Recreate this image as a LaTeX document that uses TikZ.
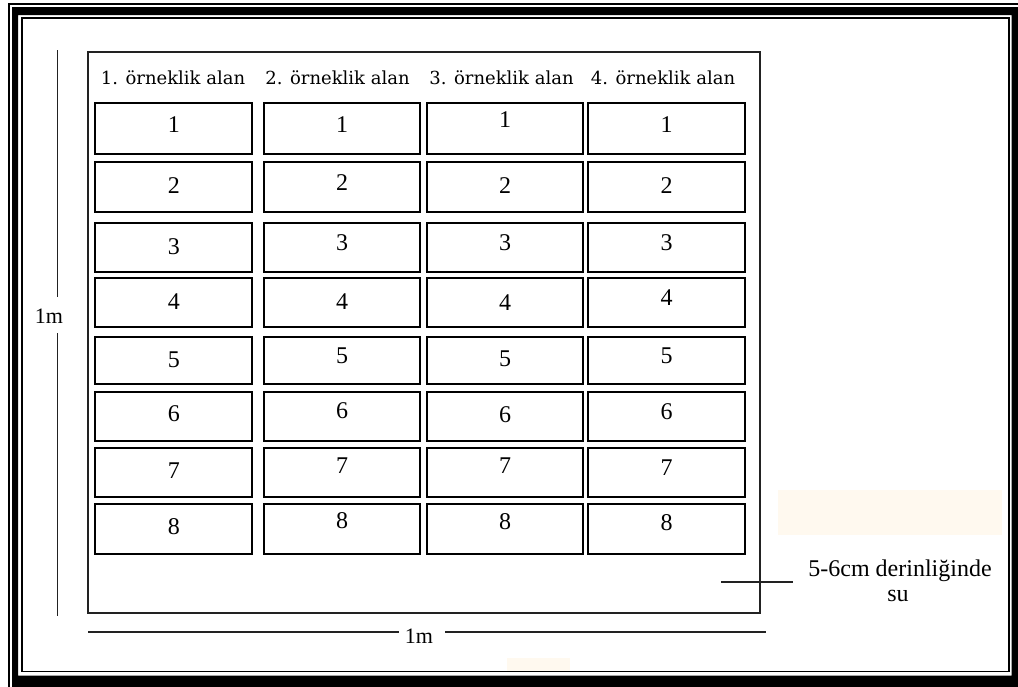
\documentclass[tikz,border=0pt]{standalone}
\usepackage{fontspec}
\setmainfont{Liberation Serif}
\newfontfamily\hdrfont{DejaVu Serif}
\definecolor{peach}{HTML}{FFF9EF}
\definecolor{ink}{HTML}{222222}
\begin{document}
\begin{tikzpicture}[x=1pt,y=-1pt,
  cell/.style={draw=black,line width=1.8pt,inner sep=0pt,outer sep=0pt},
  digit/.style={inner sep=0pt,font=\fontsize{24}{26}\selectfont},
  hdr/.style={inner sep=0pt,anchor=base,font=\hdrfont\fontsize{18}{20}\selectfont},
  dimlbl/.style={inner sep=0pt,anchor=base,font=\fontsize{22}{24}\selectfont},
  note/.style={inner sep=0pt,anchor=base,font=\fontsize{24}{26}\selectfont},
  thin/.style={draw=ink,line width=1.5pt}]
\useasboundingbox (0,0) rectangle (1018,686);
\fill[white] (0,0) rectangle (1018,686);
% faint patches
\fill[peach] (778,490) rectangle (1002,535);
\fill[peach] (507,658) rectangle (570,672);
% frame
\begin{scope}
\clip (0,0) rectangle (1018,686);
\fill[black,even odd rule] (12,7) rectangle (1040,710) (18,15) rectangle (1011.5,675.5);
\draw[line width=1.7pt] (9.2,4.1) rectangle (1050,720);
\draw[line width=1.8pt] (21.7,17.9) rectangle (1009.3,671.4);
\end{scope}
% field
\node[thin,inner sep=0pt,outer sep=0pt,minimum width=672pt,minimum height=561pt,anchor=north west] (field) at (88,52) {};
% headers
\node[hdr] (h1) at (173,84) {1. örneklik alan};
\node[hdr] (h2) at (337.5,84) {2. örneklik alan};
\node[hdr] (h3) at (501.5,84) {3. örneklik alan};
\node[hdr] (h4) at (663,84) {4. örneklik alan};
% boxes
\foreach \r/\yc/\h/\da/\db/\dc/\dd in {
  1/128.5/51/124.5/124.5/120/124.5,
  2/187/50/185.5/183/186/186,
  3/247.5/49/246.5/243/243/243,
  4/302.5/49/302/302/303/298,
  5/360.5/47/360/356/359/356,
  6/416.5/49/414/411/415/412,
  7/472.5/49/471/466/466/468,
  8/529/50/527/521/522/523}{
  \foreach \c/\xc/\w/\d in {1/173.8/157/\da,2/342/156/\db,3/505/156/\dc,4/666.7/157/\dd}{
    \node[cell,minimum width=\w pt,minimum height=\h pt] (b\r-\c) at (\xc,\yc) {};
    \node[digit] (t\r-\c) at (\xc,\d) {\r};
  }
}
% vertical dimension
\coordinate (vt) at (57.3,50);
\coordinate (vg1) at (57.3,297);
\coordinate (vg2) at (57.3,333);
\coordinate (vb) at (57.3,616);
\node[dimlbl] (lv) at (49,323) {1m};
\draw[thin] (vt) -- (vg1);
\draw[thin] (vg2) -- (vb);
% horizontal dimension
\coordinate (hl) at (88,632);
\coordinate (hg1) at (399,632);
\coordinate (hg2) at (445,632);
\coordinate (hr) at (766,632);
\node[dimlbl] (lh) at (419,643) {1m};
\draw[thin] (hl) -- (hg1);
\draw[thin] (hg2) -- (hr);
% water note
\coordinate (la) at (721,582);
\coordinate (lb) at (793,582);
\draw[thin] (la) -- (lb);
\node[note] (n1) at (900,576) {5-6cm derinliğinde};
\node[note] (n2) at (898,601) {su};
\end{tikzpicture}
\end{document}
